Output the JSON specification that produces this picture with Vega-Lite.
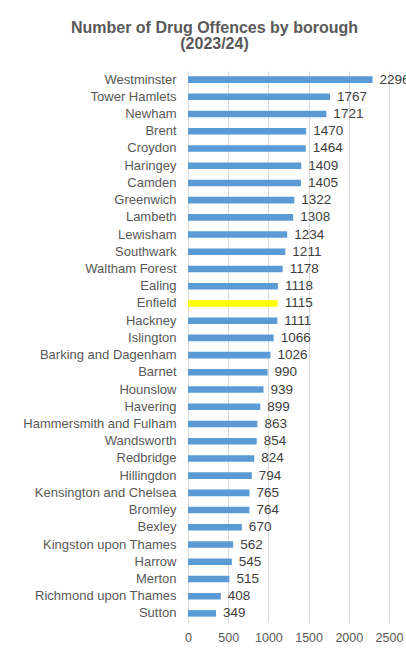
{
  "$schema": "https://vega.github.io/schema/vega-lite/v6.json",
  "width": 201,
  "height": 551,
  "autosize": "none",
  "padding": {"left": 188, "top": 71, "right": 17, "bottom": 29},
  "background": "white",
  "title": {
    "text": ["Number of Drug Offences by borough", "(2023/24)"],
    "font": "Liberation Sans",
    "fontSize": 16,
    "fontWeight": "bold",
    "color": "#595959",
    "anchor": "middle",
    "dx": -74,
    "offset": 19,
    "lineHeight": 16
  },
  "data": {
    "values": [
      {"borough": "Westminster", "value": 2296},
      {"borough": "Tower Hamlets", "value": 1767},
      {"borough": "Newham", "value": 1721},
      {"borough": "Brent", "value": 1470},
      {"borough": "Croydon", "value": 1464},
      {"borough": "Haringey", "value": 1409},
      {"borough": "Camden", "value": 1405},
      {"borough": "Greenwich", "value": 1322},
      {"borough": "Lambeth", "value": 1308},
      {"borough": "Lewisham", "value": 1234},
      {"borough": "Southwark", "value": 1211},
      {"borough": "Waltham Forest", "value": 1178},
      {"borough": "Ealing", "value": 1118},
      {"borough": "Enfield", "value": 1115},
      {"borough": "Hackney", "value": 1111},
      {"borough": "Islington", "value": 1066},
      {"borough": "Barking and Dagenham", "value": 1026},
      {"borough": "Barnet", "value": 990},
      {"borough": "Hounslow", "value": 939},
      {"borough": "Havering", "value": 899},
      {"borough": "Hammersmith and Fulham", "value": 863},
      {"borough": "Wandsworth", "value": 854},
      {"borough": "Redbridge", "value": 824},
      {"borough": "Hillingdon", "value": 794},
      {"borough": "Kensington and Chelsea", "value": 765},
      {"borough": "Bromley", "value": 764},
      {"borough": "Bexley", "value": 670},
      {"borough": "Kingston upon Thames", "value": 562},
      {"borough": "Harrow", "value": 545},
      {"borough": "Merton", "value": 515},
      {"borough": "Richmond upon Thames", "value": 408},
      {"borough": "Sutton", "value": 349}
    ]
  },
  "encoding": {
    "y": {
      "field": "borough",
      "type": "nominal",
      "sort": null,
      "scale": {"paddingInner": 0.62, "paddingOuter": 0.31},
      "axis": {
        "title": null,
        "ticks": false,
        "domain": false,
        "labelFont": "Liberation Sans",
        "labelFontSize": 13,
        "labelColor": "#595959",
        "labelPadding": 12
      }
    },
    "x": {
      "field": "value",
      "type": "quantitative",
      "scale": {"domain": [0, 2500]},
      "axis": {
        "title": null,
        "values": [0, 500, 1000, 1500, 2000, 2500],
        "format": "d",
        "labelOverlap": false,
        "labelFlush": false,
        "ticks": false,
        "domain": false,
        "grid": true,
        "gridColor": "#d9d9d9",
        "labelFont": "Liberation Sans",
        "labelFontSize": 12.5,
        "labelColor": "#595959",
        "labelPadding": 9
      }
    }
  },
  "layer": [
    {
      "mark": {"type": "bar"},
      "encoding": {
        "color": {
          "condition": {"test": "datum.borough === 'Enfield'", "value": "#FFFF00"},
          "value": "#5B9BD5"
        }
      }
    },
    {
      "mark": {"type": "text", "align": "left", "dx": 7, "font": "Liberation Sans", "fontSize": 13.5, "color": "#404040"},
      "encoding": {"text": {"field": "value", "type": "quantitative", "format": "d"}}
    }
  ],
  "config": {"view": {"stroke": null}}
}
